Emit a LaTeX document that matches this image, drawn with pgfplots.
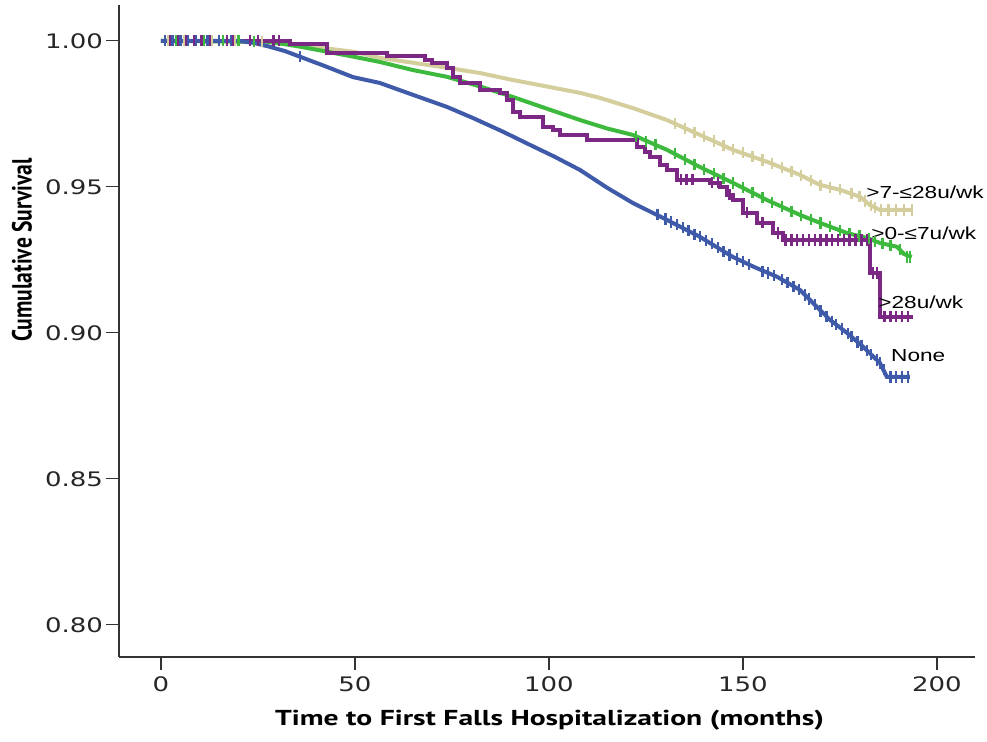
\documentclass[border=0pt]{standalone}
\usepackage{pgfplots}
\pgfplotsset{compat=1.18}
\usepackage{fontspec}
\usepackage{graphicx}
\setmainfont{DejaVu Sans}
\newfontfamily\labfont{Liberation Sans}
\newfontfamily\titfont{PT Sans}
\definecolor{cblue}{RGB}{62,90,168}
\definecolor{cgreen}{RGB}{61,186,61}
\definecolor{ctan}{RGB}{212,206,156}
\definecolor{cpurple}{RGB}{123,40,132}
\newcommand\hs[1]{\scalebox{1.3}[1]{#1}}
\pgfplotsset{cens/.style={only marks, mark=|, mark size=2.8pt, mark options={line width=1.2pt}}}
\begin{document}
\begin{tikzpicture}
\begin{axis}[
  scale only axis, width=428pt, height=326pt,
  xmin=-10.8, xmax=209.8, ymin=0.789, ymax=1.0123,
  axis x line*=bottom, axis y line*=left,
  axis line style={-, black!80, line width=0.6pt},
  tick align=outside, major tick length=6.5pt,
  tick style={black!80, line width=0.6pt},
  xtick={0,50,100,150,200}, ytick={0.80,0.85,0.90,0.95,1.00},
  /pgf/number format/assume math mode=true,
  xticklabel={\hs{\pgfmathprintnumber{\tick}}},
  yticklabel={\hs{\pgfmathprintnumber[fixed,fixed zerofill,precision=2]{\tick}}},
  tick label style={font=\fontsize{10}{12}\selectfont, black!85},
  yticklabel style={xshift=2pt},
  xlabel={\scalebox{1.37}[1]{\titfont\bfseries Time to First Falls Hospitalization (months)}},
  ylabel={\scalebox{1}[1.28]{\titfont\bfseries Cumulative Survival}},
  label style={font=\fontsize{10.8}{12}\selectfont},
  xlabel style={at={(axis description cs:0.503,-0.0966)}, anchor=center},
  ylabel style={at={(axis description cs:-0.1133,0.624)}, anchor=center},
  clip=false,
]
% >7-<=28 u/wk (tan)
\addplot[ctan, line width=2pt] table {
0 1.0
25.5 0.9997
35.8 0.9986
50 0.9962
56.4 0.9942
65 0.9925
73.7 0.9908
82.2 0.989
90.7 0.9866
99 0.9845
108 0.9822
113.1 0.9805
121.6 0.977
130.4 0.9729
138.9 0.9678
147.4 0.9627
156.2 0.9586
164.7 0.9541
169.8 0.9507
175 0.949
180.2 0.9466
182.7 0.9438
185.3 0.9421
193.8 0.9421
};
\addplot[ctan, cens] table {
2 1
6 1
13 1
19 1
26 0.9997
132.5 0.9716
135 0.970
137.5 0.9686
140 0.9672
142.5 0.9657
145 0.9641
147.5 0.9627
150 0.9617
152.5 0.9603
155 0.9592
157.5 0.958
160 0.9566
162.5 0.9553
165 0.9539
167.5 0.9522
170 0.9506
172.5 0.9498
175 0.949
178 0.9477
180 0.9467
181.5 0.9452
183 0.9435
184 0.943
185.5 0.9421
187.5 0.9421
189.5 0.9421
191.5 0.9421
193.5 0.9421
};
% >0-<=7 u/wk (green)
\addplot[cgreen, line width=2pt] table {
0 1.0
28 0.9997
36 0.998
44 0.996
50 0.9945
56.4 0.9928
65 0.990
73.7 0.9877
82 0.9845
90.7 0.9808
99 0.977
108 0.9729
115 0.970
121.6 0.9678
130.4 0.9627
138.9 0.9568
147.4 0.9514
156.2 0.9455
164.7 0.9404
169.8 0.9377
176.8 0.9342
182 0.9325
185.3 0.9308
189.7 0.9295
191.5 0.927
193.5 0.926
};
\addplot[cgreen, cens] table {
4 1
11 1
16 1
20 1
24 0.9998
122.5 0.9673
125 0.9655
127.5 0.9644
132.5 0.9613
135 0.9594
137.5 0.9578
140 0.956
142.5 0.9545
145 0.953
147.5 0.9513
150 0.9497
152.5 0.948
155 0.9463
157.5 0.9447
160 0.9432
162.5 0.9417
165 0.9402
167.5 0.9389
170 0.9376
172.5 0.9363
175 0.935
177.5 0.934
180 0.9332
182.5 0.9323
184 0.9314
186 0.9306
188 0.93
190.5 0.9285
192.3 0.926
193 0.926
};
% >28 u/wk (purple)
\addplot[cpurple, line width=2pt, const plot] table {
0 1.0
33.2 0.999
42.8 0.9959
58.2 0.9949
68.0 0.9935
69.8 0.9925
73.7 0.9908
75.3 0.9877
77.1 0.9856
82.2 0.9832
87.4 0.9822
89.2 0.9798
90.7 0.9757
92.5 0.974
98.5 0.9705
101 0.9695
102.8 0.9678
109.8 0.9661
122.7 0.9637
124.7 0.962
126 0.9603
128.6 0.9575
130.4 0.9558
133 0.9524
141.5 0.9514
144.1 0.95
145.9 0.9473
147.4 0.9455
150 0.9411
153.6 0.9377
157.7 0.9342
160.3 0.9318
182.7 0.9205
185.3 0.9055
193.8 0.9055
};
\addplot[cpurple, cens] table {
2.5 1
4.5 1
6.5 1
8.5 1
10.5 1
12.5 1
17 1
18.5 1
23 1
25 1
29 1
30.5 1
134 0.9524
135.5 0.9524
137 0.9524
142 0.9514
143.5 0.9514
146.5 0.9473
151 0.9411
155 0.9377
159 0.9342
161 0.9318
162.5 0.9318
164 0.9318
165.5 0.9318
167 0.9318
168.5 0.9318
170 0.9318
171.5 0.9318
173 0.9318
174.5 0.9318
176 0.9318
177.5 0.9318
179 0.9318
180.5 0.9318
182 0.9318
183.5 0.9205
184.5 0.9205
186.5 0.9055
188 0.9055
189.5 0.9055
191 0.9055
192.5 0.9055
};
% None (blue)
\addplot[cblue, line width=2pt] table {
0 1.0
20 1.0
24 0.9993
28 0.998
32 0.9965
36 0.9945
42 0.9915
49.5 0.9876
56.4 0.9856
65 0.9815
73.7 0.9774
80.4 0.9736
88 0.9690
95.1 0.9644
101.5 0.9603
108 0.9558
115 0.9497
121.6 0.9445
130.4 0.9387
138.9 0.9329
147.4 0.926
153 0.9225
158.8 0.9192
164.7 0.9147
168 0.9103
172.4 0.9045
176.8 0.9
181 0.8952
185.3 0.8897
187.1 0.8849
193 0.8849
};
\addplot[cblue, cens] table {
1 1
3 1
5 1
7 1
9 1
12 1
15 1
18 1
35.8 0.9947
128 0.9405
130 0.939
131.5 0.938
133 0.937
134.5 0.936
136 0.935
137.5 0.9338
139 0.933
140.5 0.9317
142 0.9305
143.5 0.9292
145 0.928
146.5 0.9267
148.5 0.9253
150 0.9245
151.5 0.9234
155 0.921
156.5 0.9205
158 0.9196
160 0.9183
161.5 0.9172
163 0.916
164.5 0.9148
166 0.913
167 0.9116
168.5 0.9096
170 0.9075
171.5 0.9057
173 0.9039
174 0.903
175.5 0.9013
177 0.8998
178 0.8987
179.5 0.8969
180.5 0.8958
182 0.894
183 0.8925
184.5 0.8907
185.3 0.8897
186.3 0.8875
188 0.8849
189.5 0.8849
191 0.8849
192.5 0.8849
};
\begin{scope}[font=\labfont\fontsize{8.7}{10}\selectfont]
\node[anchor=west, inner sep=0pt] at (axis cs:181.7,0.948) {\hs{>7-≤28u/wk}};
\node[anchor=west, inner sep=0pt] at (axis cs:183,0.9342) {\hs{>0-≤7u/wk}};
\node[anchor=west, inner sep=0pt] at (axis cs:184.8,0.9106) {\hs{>28u/wk}};
\node[anchor=west, inner sep=0pt] at (axis cs:188.1,0.8921) {\hs{None}};
\end{scope}
\end{axis}
\pgfresetboundingbox
\path (current axis.south west) ++(-59.5pt,-42.5pt) rectangle ++(493.5pt,371pt);
\end{tikzpicture}
\end{document}
